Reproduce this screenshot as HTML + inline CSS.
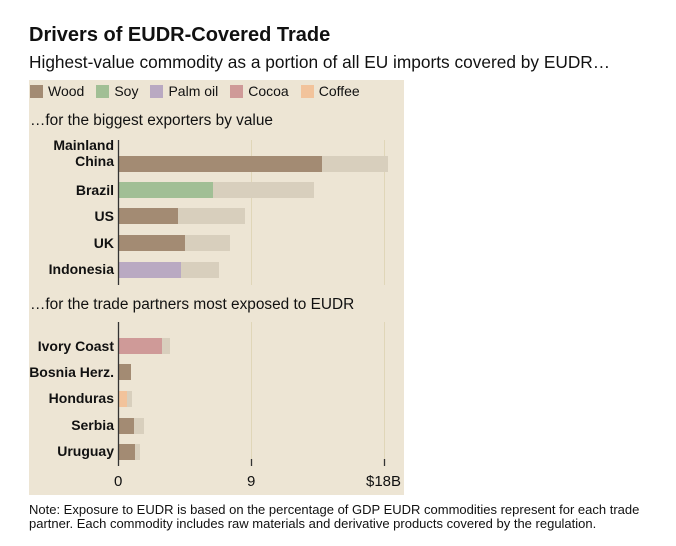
<!DOCTYPE html>
<html><head><style>
body{margin:0;width:676px;height:546px;background:#fff;font-family:"Liberation Sans",Arial,sans-serif;position:relative;overflow:hidden;color:#111}
.a{position:absolute;white-space:nowrap}
.lab{position:absolute;right:562px;font-weight:bold;font-size:14px;text-align:right;line-height:16px}
.sw{display:inline-block;width:13px;height:13px;vertical-align:-2px;margin-right:5px}
.lg{margin-right:12px}
</style></head><body>
<div class="a" style="left:29px;top:24px;font-size:20px;font-weight:bold">Drivers of EUDR-Covered Trade</div>
<div class="a" style="left:29px;top:52px;font-size:17.3px">Highest-value commodity as a portion of all EU imports covered by EUDR…</div>
<div class="a" style="left:29px;top:80px;width:375px;height:415px;background:#ede5d4"></div>
<div class="a" style="left:30px;top:83px;font-size:14px">
<span class="lg"><span class="sw" style="background:#a38b73"></span>Wood</span><span class="lg"><span class="sw" style="background:#a1bf95"></span>Soy</span><span class="lg"><span class="sw" style="background:#b9a9c2"></span>Palm oil</span><span class="lg"><span class="sw" style="background:#cf9a98"></span>Cocoa</span><span class="lg"><span class="sw" style="background:#f2c39b"></span>Coffee</span></div>
<div class="a" style="left:30px;top:112px;font-size:15.4px">…for the biggest exporters by value</div>
<div class="a" style="left:30px;top:296px;font-size:15.4px">…for the trade partners most exposed to EUDR</div>
<svg class="a" style="left:0;top:0" width="676" height="546">
<g stroke="#e0d6b8" stroke-width="1"><line x1="251.5" y1="140" x2="251.5" y2="285"/><line x1="384.5" y1="140" x2="384.5" y2="285"/><line x1="251.5" y1="322" x2="251.5" y2="460"/><line x1="384.5" y1="322" x2="384.5" y2="460"/></g>
<g fill="#d8cfbd">
<rect x="118" y="156" width="270" height="16"/><rect x="118" y="182" width="196" height="16"/><rect x="118" y="208" width="127" height="16"/><rect x="118" y="235" width="112" height="16"/><rect x="118" y="262" width="101" height="16"/>
<rect x="118" y="338" width="52" height="16"/><rect x="118" y="364" width="13" height="16"/><rect x="118" y="391" width="14" height="16"/><rect x="118" y="418" width="26" height="16"/><rect x="118" y="444" width="22" height="16"/>
</g>
<rect x="118" y="156" width="204" height="16" fill="#a38b73"/>
<rect x="118" y="182" width="95" height="16" fill="#a1bf95"/>
<rect x="118" y="208" width="60" height="16" fill="#a38b73"/>
<rect x="118" y="235" width="67" height="16" fill="#a38b73"/>
<rect x="118" y="262" width="63" height="16" fill="#b9a9c2"/>
<rect x="118" y="338" width="44" height="16" fill="#cf9a98"/>
<rect x="118" y="364" width="13" height="16" fill="#a38b73"/>
<rect x="118" y="391" width="9" height="16" fill="#f2c39b"/>
<rect x="118" y="418" width="16" height="16" fill="#a38b73"/>
<rect x="118" y="444" width="17" height="16" fill="#a38b73"/>
<g stroke="#333" stroke-width="1.3"><line x1="118.5" y1="140" x2="118.5" y2="285"/><line x1="118.5" y1="322" x2="118.5" y2="466"/><line x1="251.5" y1="459" x2="251.5" y2="466"/><line x1="384.5" y1="459" x2="384.5" y2="466"/></g>
</svg>
<div class="lab" style="top:137px">Mainland<br>China</div>
<div class="lab" style="top:182px">Brazil</div>
<div class="lab" style="top:208px">US</div>
<div class="lab" style="top:235px">UK</div>
<div class="lab" style="top:261px">Indonesia</div>
<div class="lab" style="top:338px">Ivory Coast</div>
<div class="lab" style="top:364px">Bosnia Herz.</div>
<div class="lab" style="top:390px">Honduras</div>
<div class="lab" style="top:417px">Serbia</div>
<div class="lab" style="top:443px">Uruguay</div>
<div class="a" style="left:114px;top:473px;font-size:15px">0</div>
<div class="a" style="left:247px;top:473px;font-size:15px">9</div>
<div class="a" style="left:366px;top:473px;font-size:15px">$18B</div>
<div class="a" style="left:29px;top:503px;font-size:13px;line-height:14px">Note: Exposure to EUDR is based on the percentage of GDP EUDR commodities represent for each trade<br>partner. Each commodity includes raw materials and derivative products covered by the regulation.</div>
</body></html>
